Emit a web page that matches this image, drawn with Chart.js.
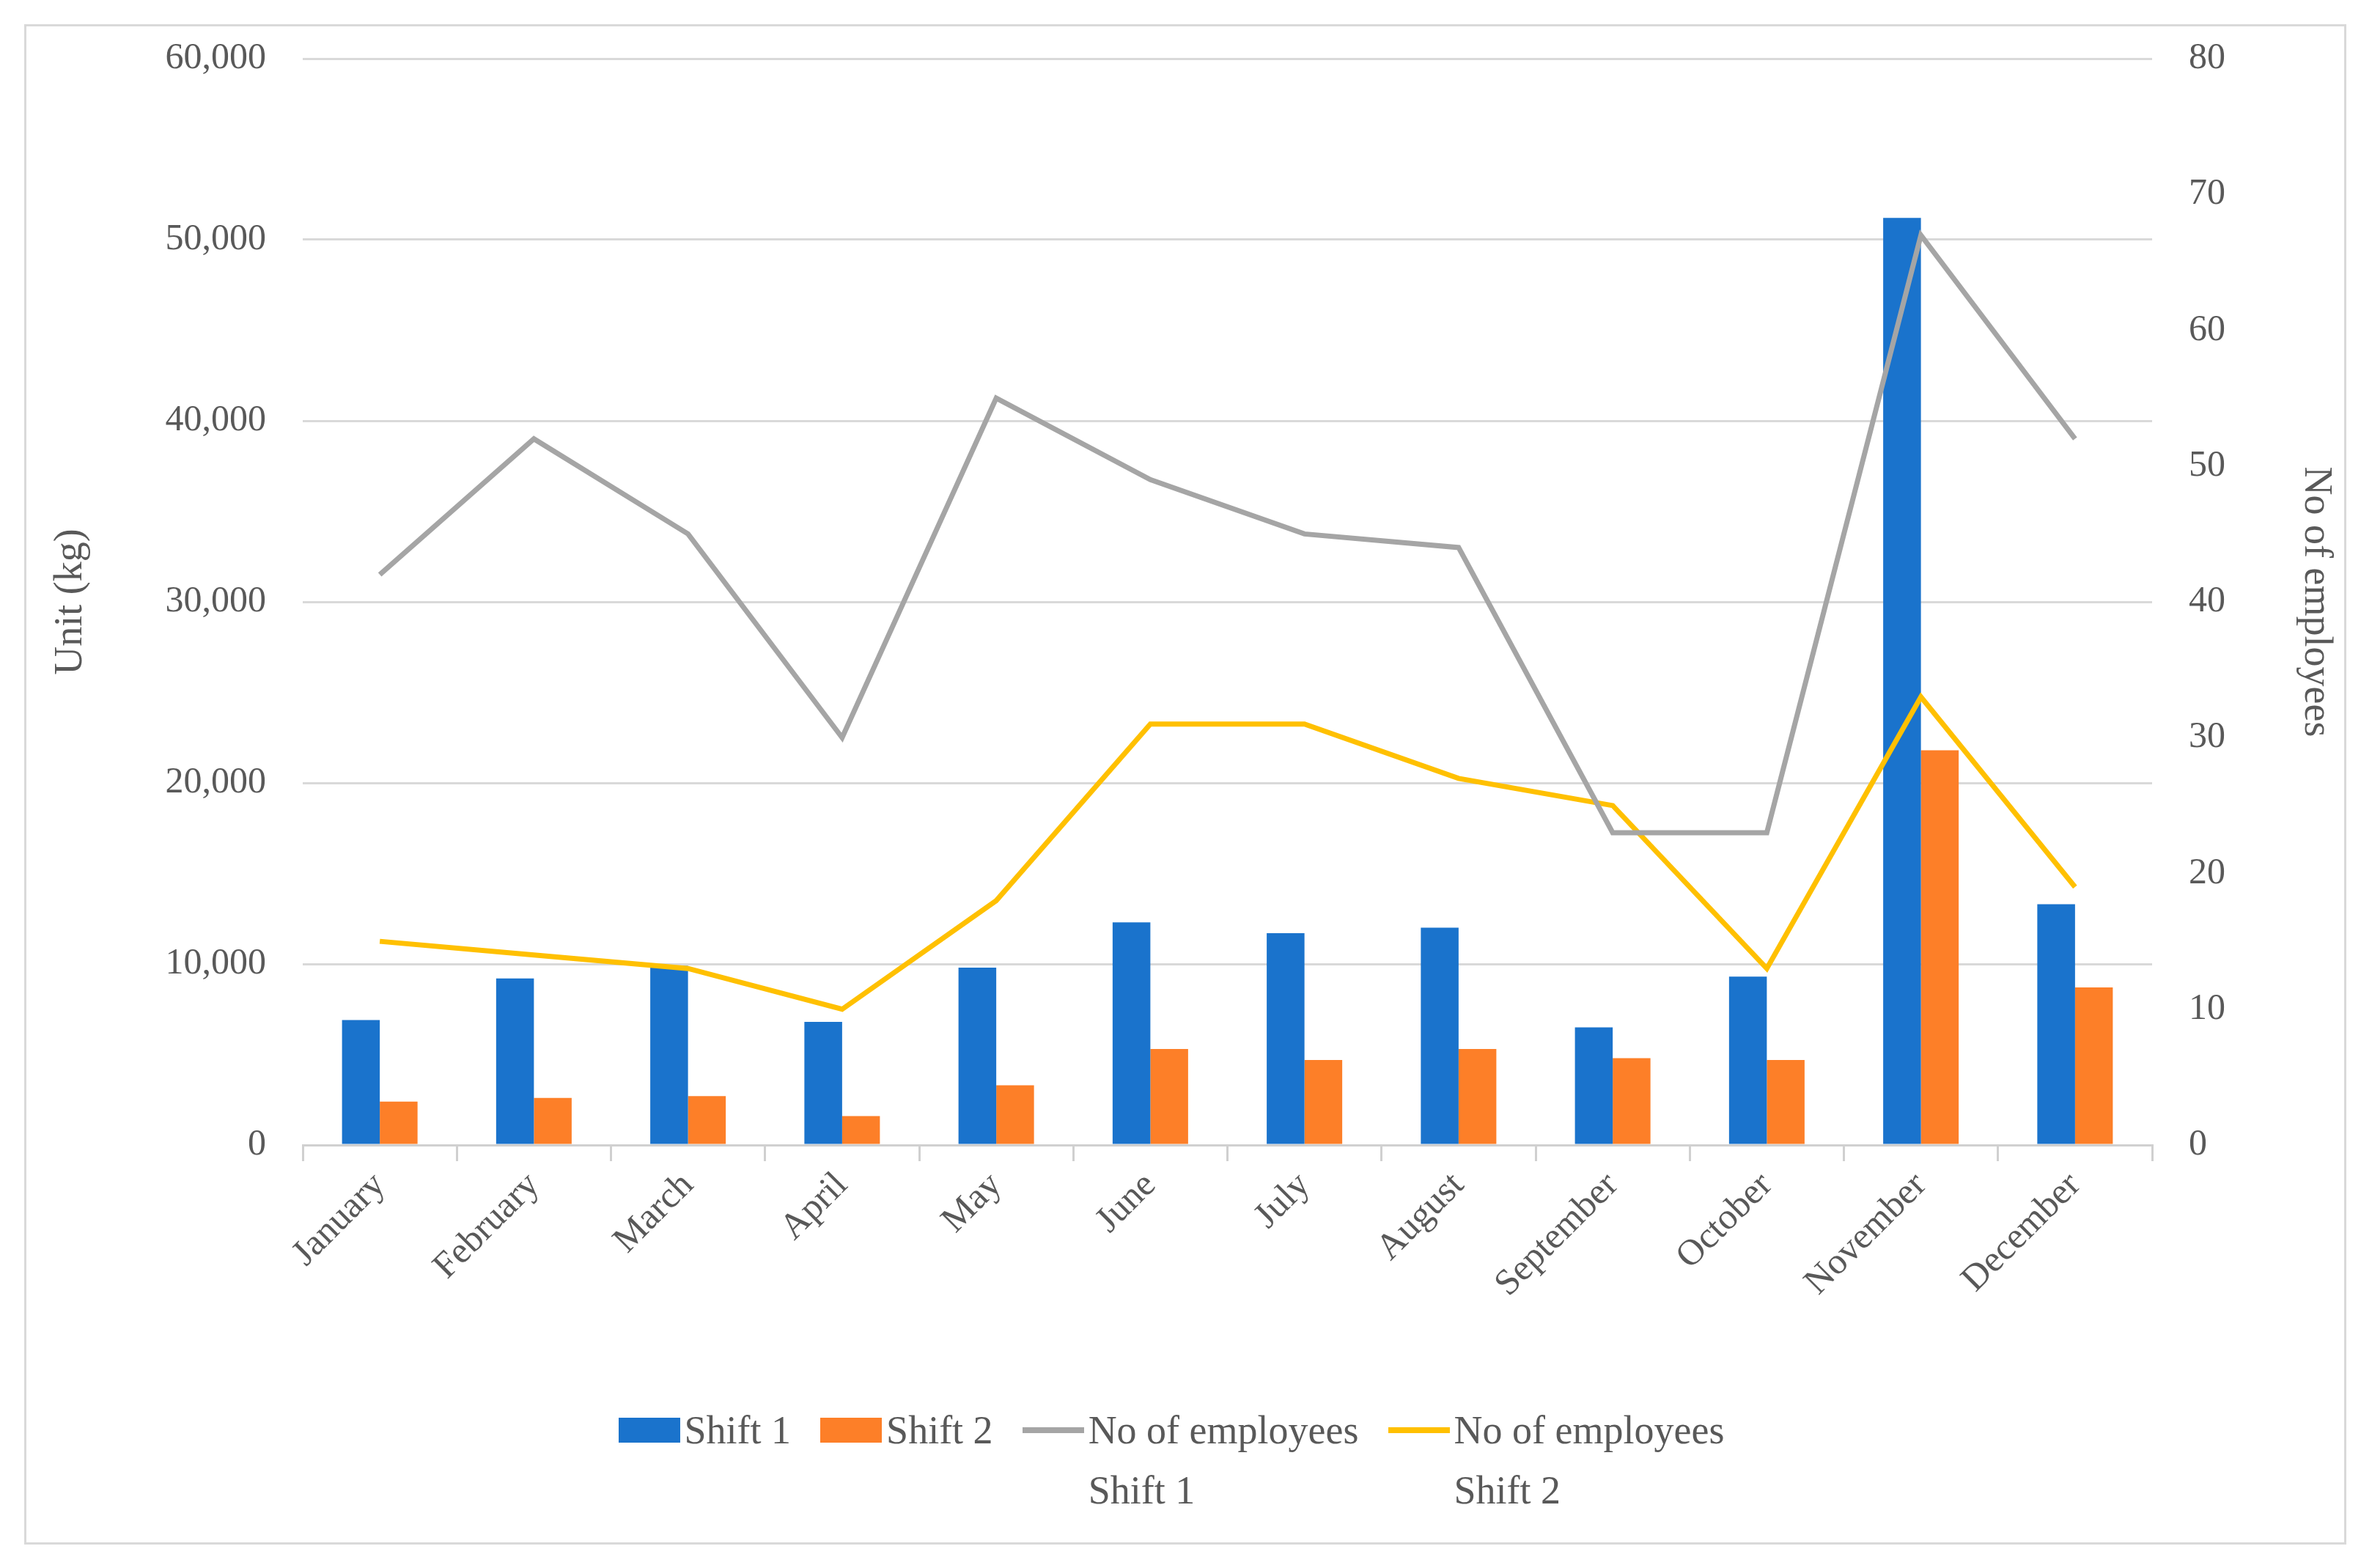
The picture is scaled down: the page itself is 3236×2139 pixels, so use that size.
<!DOCTYPE html>
<html><head><meta charset="utf-8">
<script src="https://cdn.jsdelivr.net/npm/chart.js@4"></script>
<style>
body{margin:0;background:#fff;font-family:"Liberation Serif","DejaVu Serif",serif;}
#wrap{position:absolute;left:0;top:0;width:3236px;height:2139px;}
#frame{position:absolute;left:33px;top:33px;width:3168px;height:2074px;border:3px solid #d9d9d9;box-sizing:border-box;}
#legend{position:absolute;top:1910px;left:0;width:3236px;display:flex;justify-content:center;gap:0;color:#595959;font-size:54px;}
.item{display:flex;align-items:flex-start;margin-right:40px;line-height:82px;}
.sw{display:inline-block;width:84px;margin-right:6px;}
</style></head>
<body><div id="wrap">
<canvas id="c" width="3236" height="2139"></canvas>
<div id="frame"></div>
<div id="legend"></div>
</div>
<script>
// data
const months = ['January','February','March','April','May','June','July','August','September','October','November','December'];
const shift1 = [6900, 9200, 9900, 6800, 9800, 12300, 11700, 12000, 6500, 9300, 51200, 13300];
const shift2 = [2400, 2600, 2700, 1600, 3300, 5300, 4700, 5300, 4800, 4700, 21800, 8700];
const emp1 = [42, 52, 45, 30, 55, 49, 45, 44, 23, 23, 67, 52];
const emp2 = [15, 14, 13, 10, 18, 31, 31, 27, 25, 13, 33, 19];

const grey = '#595959';
const font = {family: '"Liberation Serif","DejaVu Serif",serif', size: 50};

const series = [
  {label: 'Shift 1', type: 'bar', data: shift1, backgroundColor: '#1a73cc', yAxisID: 'y', order: 2},
  {label: 'Shift 2', type: 'bar', data: shift2, backgroundColor: '#fd7f28', yAxisID: 'y', order: 2},
  {label: 'No of employees\nShift 1', type: 'line', data: emp1, borderColor: '#a5a5a5', borderWidth: 7, pointRadius: 0, yAxisID: 'y2', order: 1},
  {label: 'No of employees\nShift 2', type: 'line', data: emp2, borderColor: '#ffc000', borderWidth: 7, pointRadius: 0, yAxisID: 'y2', order: 1}
];

new Chart(document.getElementById('c'), {
  data: {labels: months, datasets: series},
  options: {
    responsive: false, animation: false,
    categoryPercentage: 0.49, barPercentage: 1,
    layout: {padding: {left: 60, right: 40, top: 70, bottom: 300}},
    plugins: {legend: {display: false}, tooltip: {enabled: false}},
    scales: {
      x: {
        offset: true,
        afterFit: s => { s.height = 277; },
        grid: {offset: true, drawOnChartArea: false, color: '#d0d0d0', lineWidth: 3, tickLength: 22},
        border: {color: '#d0d0d0', width: 3},
        ticks: {color: grey, font, maxRotation: 45, minRotation: 45, padding: 4}
      },
      y: {
        position: 'left', min: 0, max: 60000,
        afterFit: s => { s.width = 353; },
        ticks: {stepSize: 10000, color: grey, font, padding: 50, callback: v => v.toLocaleString('en-US')},
        grid: {color: '#d9d9d9', lineWidth: 3, drawTicks: false},
        border: {display: false},
        title: {display: true, text: 'Unit (kg)', color: grey, font: {...font, size: 54}}
      },
      y2: {
        position: 'right', min: 0, max: 80,
        afterFit: s => { s.width = 260; },
        ticks: {stepSize: 10, color: grey, font, padding: 50},
        grid: {drawOnChartArea: false, drawTicks: false},
        border: {display: false},
        title: {display: true, text: 'No of employees', color: grey, font: {...font, size: 54}}
      }
    }
  }
});

const leg = document.getElementById('legend');
series.forEach(d => {
  const el = document.createElement('div');
  el.className = 'item';
  const sw = document.createElement('span');
  sw.className = 'sw';
  const c = d.type === 'bar' ? d.backgroundColor : d.borderColor;
  sw.style.cssText = d.type === 'bar'
    ? `height:34px;background:${c};margin-top:24px;`
    : `height:8px;background:${c};margin-top:37px;`;
  const t = document.createElement('span');
  t.innerHTML = d.label.replace('\n', '<br>');
  el.appendChild(sw); el.appendChild(t);
  leg.appendChild(el);
});
</script>
</body></html>
